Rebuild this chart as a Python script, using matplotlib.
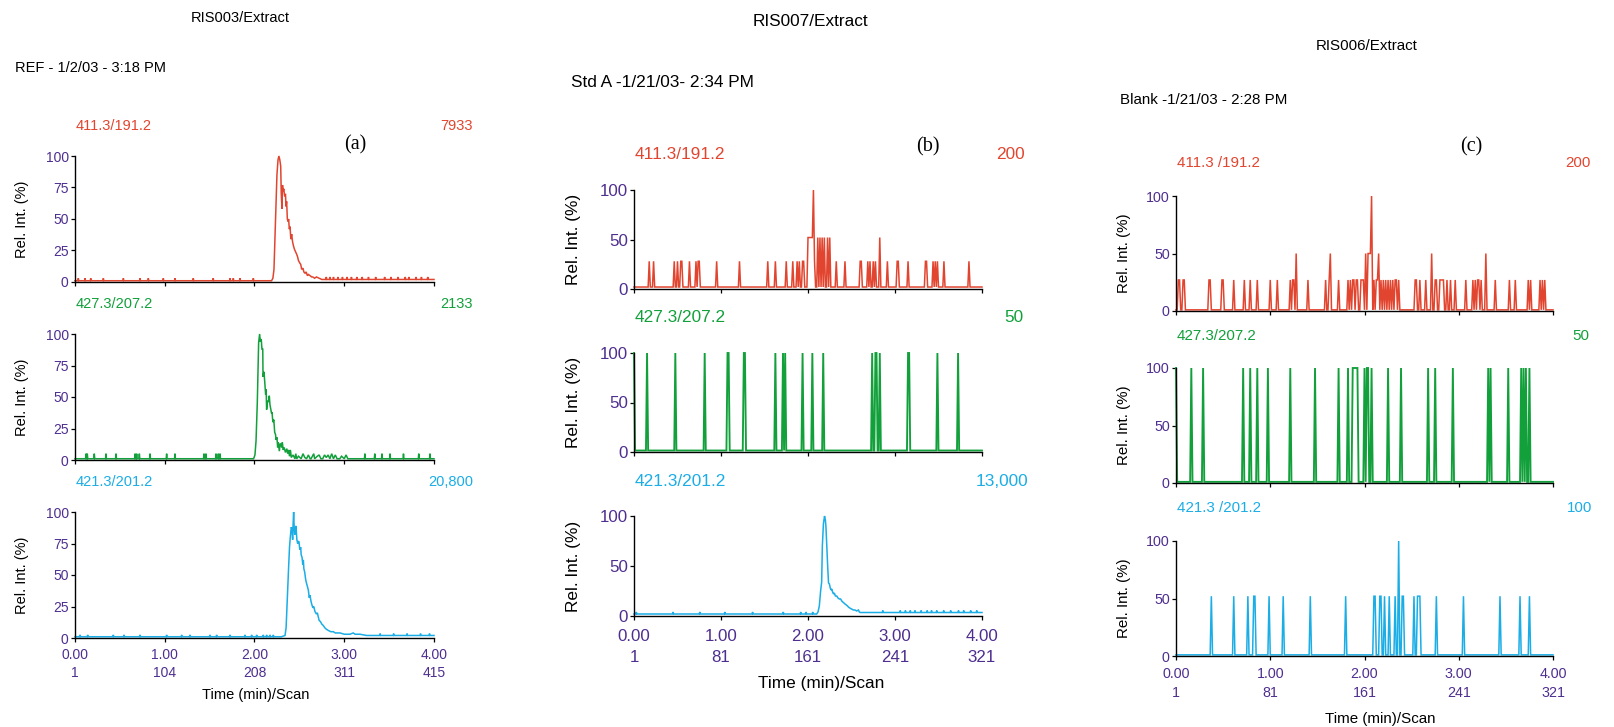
import numpy as np
import matplotlib
matplotlib.use("Agg")
import matplotlib.pyplot as plt

# ---------------- DATA ----------------
TIME_TICKS = [0, 1, 2, 3, 4]
SCAN_LABELS_A = ["1", "104", "208", "311", "415"]
SCAN_LABELS_BC = ["1", "81", "161", "241", "321"]
N_SCANS_A = 415
N_SCANS_BC = 321

TITLES = ["RIS003/Extract", "RIS007/Extract", "RIS006/Extract"]
SAMPLES = ["REF - 1/2/03 - 3:18 PM", "Std A -1/21/03- 2:34 PM", "Blank -1/21/03 - 2:28 PM"]
PANEL_TAGS = ["(a)", "(b)", "(c)"]
TRACE_NAMES = [["411.3/191.2", "427.3/207.2", "421.3/201.2"],
               ["411.3/191.2", "427.3/207.2", "421.3/201.2"],
               ["411.3 /191.2", "427.3/207.2", "421.3 /201.2"]]
TRACE_MAX = [["7933", "2133", "20,800"],
             ["200", "50", "13,000"],
             ["200", "50", "100"]]

# (a) 411.3/191.2 -- peak profile (time min, rel. int. %) and baseline bumps
A_RED_PEAK_T = [2.19, 2.205, 2.217, 2.228, 2.24, 2.25, 2.262, 2.272, 2.282, 2.292,
                2.298, 2.306, 2.312, 2.318, 2.326, 2.336, 2.345, 2.351, 2.358, 2.366,
                2.374, 2.38, 2.388, 2.396, 2.405, 2.414, 2.424, 2.433, 2.445, 2.458,
                2.47, 2.48, 2.49, 2.505, 2.515, 2.526, 2.54, 2.55, 2.563, 2.575,
                2.59, 2.6, 2.62, 2.637, 2.65, 2.67, 2.69, 2.72, 2.75]
A_RED_PEAK_V = [1, 3, 10, 35, 62, 85, 97, 100, 97, 92,
                70, 58, 77, 72, 74, 68, 70, 60, 64, 50,
                48, 50, 42, 44, 34, 38, 32, 29, 26, 24,
                22, 20, 17, 15, 14, 10, 11, 8, 7, 8,
                5, 6, 5, 4, 4, 3, 4, 3, 2]
A_RED_BUMPS = [0.037, 0.111, 0.175, 0.316, 0.539, 0.724, 0.817, 0.984, 1.114, 1.318,
               1.54, 1.727, 1.764, 1.838, 1.987, 2.8, 2.84, 2.88, 2.93, 2.98, 3.03,
               3.08, 3.14, 3.2, 3.27, 3.35, 3.45, 3.52, 3.6, 3.68, 3.72, 3.8, 3.86, 3.93]
A_RED_BUMP_H = 2

# (a) 427.3/207.2
A_GRN_PEAK_T = [1.99, 2.005, 2.017, 2.031, 2.046, 2.057, 2.065, 2.075, 2.083, 2.092,
                2.095, 2.105, 2.11, 2.124, 2.13, 2.135, 2.145, 2.155, 2.165, 2.172,
                2.18, 2.19, 2.195, 2.205, 2.215, 2.225, 2.235, 2.24, 2.25, 2.258,
                2.265, 2.277, 2.285, 2.295, 2.303, 2.31, 2.32, 2.33, 2.345, 2.36,
                2.37, 2.38, 2.39, 2.40, 2.41, 2.43, 2.45, 2.46, 2.47, 2.49,
                2.52, 2.54, 2.56, 2.58, 2.6, 2.62, 2.63, 2.66, 2.67, 2.7,
                2.72, 2.74, 2.76, 2.78, 2.8, 2.82, 2.84, 2.86, 2.88, 2.9,
                2.92, 2.95, 2.97, 3.0, 3.02, 3.04, 3.06]
A_GRN_PEAK_V = [1, 4, 15, 45, 93, 100, 94, 96, 88, 88,
                66, 70, 66, 52, 56, 40, 47, 46, 51, 44,
                41, 37, 38, 30, 32, 22, 20, 16, 18, 10,
                14, 7, 13, 12, 10, 14, 8, 10, 6, 9,
                5, 8, 3, 8, 2, 4, 1, 5, 1, 3,
                1, 5, 2, 1, 4, 1, 1, 5, 1, 3,
                4, 1, 1, 4, 2, 4, 1, 5, 1, 4,
                1, 1, 3, 1, 4, 1, 1]
A_GRN_BUMPS = [0.123, 0.137, 0.215, 0.345, 0.457, 0.669, 0.687, 0.717, 0.836, 1.021,
               1.114, 1.437, 1.459, 1.571, 1.597, 1.616, 3.23, 3.34, 3.42, 3.51,
               3.66, 3.83, 3.955]
A_GRN_BUMP_H = 4

# (a) 421.3/201.2
A_BLU_PEAK_T = [2.30, 2.34, 2.352, 2.36, 2.37, 2.38, 2.39, 2.399, 2.41, 2.418, 2.425,
                2.43, 2.436, 2.442, 2.448, 2.455, 2.462, 2.466, 2.472, 2.481, 2.49,
                2.496, 2.505, 2.515, 2.52, 2.53, 2.538, 2.544, 2.55, 2.56, 2.567,
                2.574, 2.585, 2.6, 2.61, 2.618, 2.63, 2.637, 2.65, 2.66, 2.674,
                2.69, 2.7, 2.71, 2.72, 2.735, 2.75, 2.765, 2.785, 2.8, 2.822,
                2.85, 2.878, 2.9, 2.953, 3.0, 3.064, 3.1, 3.12, 3.175, 3.25]
A_BLU_PEAK_V = [1, 2, 8, 22, 40, 56, 72, 80, 88, 86, 78,
                90, 100, 88, 82, 86, 89, 84, 78, 75, 77,
                76, 70, 72, 66, 64, 58, 62, 55, 52, 48,
                45, 42, 38, 32, 34, 29, 27, 24, 25, 21,
                19, 20, 17, 14, 13, 11, 10, 8, 7, 6,
                5, 5, 4, 4, 3, 3, 4, 3, 3, 2]
A_BLU_BUMPS = [0.056, 0.141, 0.427, 0.546, 0.724, 1.021, 1.188, 1.281, 1.504, 1.578,
               1.727, 1.894, 1.968, 2.024, 2.098, 2.135, 2.173, 2.21, 3.4, 3.55,
               3.7, 3.85, 3.95]
A_BLU_BUMP_H = 1.5

# (b) 421.3/201.2
B_BLU_PEAK_T = [2.10, 2.115, 2.13, 2.145, 2.157, 2.165, 2.177, 2.19, 2.2, 2.207,
                2.216, 2.226, 2.236, 2.246, 2.256, 2.265, 2.273, 2.283, 2.293, 2.303,
                2.315, 2.33, 2.345, 2.36, 2.375, 2.388, 2.4, 2.413, 2.426, 2.44,
                2.455, 2.464, 2.48, 2.5, 2.522, 2.54, 2.56, 2.58, 2.59, 2.6]
B_BLU_PEAK_V = [2, 4, 10, 25, 34, 70, 92, 100, 96, 88,
                70, 50, 33, 32, 28, 26, 27, 24, 22, 23,
                20, 20, 18, 17, 17, 15, 14, 13, 12, 11,
                10, 9, 8, 7, 6, 6, 5, 6, 4, 3.5]
B_BLU_BUMPS = [0.027, 0.449, 0.756, 1.044, 1.363, 1.716, 1.916, 1.977, 2.054,
               2.86, 3.06, 3.12, 3.175, 3.23, 3.30, 3.37, 3.42, 3.48, 3.56,
               3.64, 3.73, 3.79, 3.87, 3.94]
B_BLU_BUMP_H = 2

# (b) 411.3/191.2 -- single-scan spikes (time min, rel. int. %), baseline level
B_RED_T = [0.18, 0.226, 0.468, 0.495, 0.534, 0.553, 0.633, 0.718, 0.737, 0.756,
           0.948, 1.217, 1.532, 1.628, 1.754, 1.823, 1.869, 1.900, 1.939, 1.954,
           2.0, 2.0125, 2.025, 2.0375, 2.05, 2.0625, 2.08,
           2.107, 2.138, 2.161, 2.192, 2.223, 2.253,
           2.322, 2.426, 2.599, 2.618, 2.683, 2.714, 2.745, 2.772, 2.829,
           2.914, 3.021, 3.040, 3.148, 3.347, 3.367, 3.443, 3.463, 3.482, 3.559, 3.846]
B_RED_V = [28, 28, 28, 28, 28, 28, 28, 28, 28, 28,
           28, 28, 28, 28, 28, 28, 28, 28, 28, 28,
           52, 52, 52, 52, 52, 100, 28,
           52, 52, 52, 52, 52, 52,
           28, 28, 28, 28, 28, 28, 28, 28, 52,
           28, 28, 28, 28, 28, 28, 28, 28, 28, 28, 28]
B_RED_BASE = 2

# (b) 427.3/207.2
B_GRN_T = [0.0, 0.150, 0.480, 0.814, 1.071, 1.090, 1.263, 1.274, 1.620, 1.716, 1.735,
           1.939, 2.046, 2.177, 2.741, 2.772, 2.791, 2.829, 3.148, 3.167, 3.489, 3.720]
B_GRN_V = [100, 100, 100, 100, 100, 100, 100, 100, 100, 100, 100,
           100, 100, 100, 100, 100, 100, 100, 100, 100, 100, 100]
B_GRN_BASE = 1.5

# (c) 411.3/191.2
C_RED_T = [0.025, 0.042, 0.071, 0.088, 0.355, 0.368, 0.484, 0.502, 0.608, 0.731,
           0.784, 0.862, 0.996, 1.074, 1.216, 1.233, 1.251, 1.272, 1.403, 1.587,
           1.625, 1.643, 1.721, 1.827, 1.855, 1.873, 1.887, 1.908, 1.922, 1.968,
           1.98, 1.993, 2.014, 2.039, 2.05, 2.0625, 2.078, 2.099, 2.12, 2.133,
           2.15, 2.18, 2.205, 2.226, 2.251, 2.276, 2.297, 2.322, 2.339, 2.357,
           2.534, 2.551, 2.587, 2.65, 2.71, 2.746, 2.763, 2.799, 2.812, 2.825,
           2.834, 2.869, 2.915, 2.958, 3.081, 3.152, 3.170, 3.194, 3.216, 3.240,
           3.293, 3.392, 3.541, 3.604, 3.735, 3.760, 3.866, 3.887, 3.912]
C_RED_V = [27, 27, 27, 27, 27, 27, 27, 27, 27, 27,
           27, 27, 27, 27, 27, 27, 27, 50, 27, 27,
           27, 50, 27, 27, 27, 27, 27, 27, 27, 27,
           27, 27, 50, 50, 50, 50, 100, 27, 27, 27,
           50, 27, 27, 27, 27, 27, 27, 27, 27, 27,
           27, 27, 27, 27, 50, 27, 27, 27, 27, 27,
           27, 27, 27, 27, 27, 27, 27, 27, 27, 27,
           50, 27, 27, 27, 27, 27, 27, 27, 27]
C_RED_BASE = 1

# (c) 427.3/207.2
C_GRN_T = [0.0, 0.166, 0.290, 0.714, 0.784, 0.866, 0.972, 1.208, 1.473, 1.731,
           1.827, 1.88, 1.8925, 1.905, 1.9175, 1.93, 2.004, 2.021, 2.039, 2.074,
           2.251, 2.382, 2.675, 2.756, 2.933, 3.311, 3.336, 3.523, 3.664, 3.689,
           3.717, 3.753]
C_GRN_V = [100, 100, 100, 100, 100, 100, 100, 100, 100, 100,
           100, 100, 100, 100, 100, 100, 100, 100, 100, 100,
           100, 100, 100, 100, 100, 100, 100, 100, 100, 100,
           100, 100]
C_GRN_BASE = 1

# (c) 421.3/201.2
C_BLU_T = [0.379, 0.609, 0.768, 0.821, 0.832, 0.991, 1.143, 1.423, 1.798, 2.106,
           2.117, 2.1625, 2.175, 2.212, 2.265, 2.319, 2.365, 2.40, 2.418, 2.531,
           2.566, 2.58, 2.59, 2.761, 3.044, 3.441, 3.653, 3.752]
C_BLU_V = [52, 52, 52, 52, 52, 52, 52, 52, 52, 52,
           52, 52, 52, 52, 52, 52, 100, 52, 52, 52,
           52, 52, 52, 52, 52, 52, 52, 52]
C_BLU_BASE = 1

# ---------------- STYLE / LAYOUT ----------------
W, H = 1615, 727
RED, GREEN, CYAN = "#E2452F", "#12A03B", "#1AADE6"
PURPLE = "#4E2E8F"
SANS = "Liberation Sans"
SERIF = "Liberation Serif"
TMAX = 4.0

fig = plt.figure(figsize=(W / 100, H / 100), dpi=100)


def fx(x):
    return x / W


def fy(y):
    return 1 - y / H


def peak_trace(pt, pv, bumps, bump_h, n_scans):
    d = TMAX / (n_scans - 1) / 2
    pre, post = pv[0], pv[-1]
    pts = [(0.0, pre), (TMAX, post)] + list(zip(pt, pv))
    for t in bumps:
        b = pre if t < pt[0] else post
        pts += [(t - d, b), (t, b + bump_h), (t + d, b)]
    pts.sort()
    arr = np.array(pts)
    return arr[:, 0], arr[:, 1]


def spike_trace(st, sv, base, n_scans):
    t = np.linspace(0, TMAX, n_scans)
    v = np.full(n_scans, float(base))
    idx = np.rint(np.array(st) / (TMAX / (n_scans - 1))).astype(int)
    v[idx] = sv
    return t, v


traces = [
    [peak_trace(A_RED_PEAK_T, A_RED_PEAK_V, A_RED_BUMPS, A_RED_BUMP_H, N_SCANS_A),
     peak_trace(A_GRN_PEAK_T, A_GRN_PEAK_V, A_GRN_BUMPS, A_GRN_BUMP_H, N_SCANS_A),
     peak_trace(A_BLU_PEAK_T, A_BLU_PEAK_V, A_BLU_BUMPS, A_BLU_BUMP_H, N_SCANS_A)],
    [spike_trace(B_RED_T, B_RED_V, B_RED_BASE, N_SCANS_BC),
     spike_trace(B_GRN_T, B_GRN_V, B_GRN_BASE, N_SCANS_BC),
     peak_trace(B_BLU_PEAK_T, B_BLU_PEAK_V, B_BLU_BUMPS, B_BLU_BUMP_H, N_SCANS_BC)],
    [spike_trace(C_RED_T, C_RED_V, C_RED_BASE, N_SCANS_BC),
     spike_trace(C_GRN_T, C_GRN_V, C_GRN_BASE, N_SCANS_BC),
     spike_trace(C_BLU_T, C_BLU_V, C_BLU_BASE, N_SCANS_BC)],
]
colors = [RED, GREEN, CYAN]
scan_labels = [SCAN_LABELS_A, SCAN_LABELS_BC, SCAN_LABELS_BC]

layout = [
    dict(left=75, right=434, rows=[(156, 282), (334, 460), (512, 638)],
         yticks=[0, 25, 50, 75, 100], fs=10.5, tfs=10.0, xpad=4.3, xls=1.33,
         title=(240.5, 22), sample=(15, 72), tag=(355, 149),
         name_x=76, max_x=[473, 473, 473], max_ha="right", name_y=[130, 308, 486],
         ylab_x=22, xlab=(256, 699)),
    dict(left=634, right=982, rows=[(190, 289), (353, 452), (516, 616)],
         yticks=[0, 50, 100], fs=12.4, tfs=12.2, xpad=6.1, xls=1.52,
         title=(810, 26), sample=(571, 87), tag=(928, 151),
         name_x=635, max_x=[1025, 1023, 1028], max_ha="right", name_y=[159, 322, 486],
         ylab_x=574, xlab=(821, 688)),
    dict(left=1176, right=1553, rows=[(196, 311), (368, 483), (541, 656)],
         yticks=[0, 50, 100], fs=10.9, tfs=10.3, xpad=4.9, xls=1.44,
         title=(1367, 50), sample=(1120, 104), tag=(1471, 151),
         name_x=1177, max_x=[1565, 1572, 1567], max_ha="left", name_y=[167, 340, 512],
         ylab_x=1124, xlab=(1380, 723)),
]

for p, L in enumerate(layout):
    fs, tfs = L["fs"], L["tfs"]
    fig.text(fx(L["title"][0]), fy(L["title"][1]), TITLES[p], ha="center", va="baseline",
             fontsize=fs, family=SANS, color="black")
    fig.text(fx(L["sample"][0]), fy(L["sample"][1]), SAMPLES[p], ha="left", va="baseline",
             fontsize=fs, family=SANS, color="black")
    fig.text(fx(L["tag"][0]), fy(L["tag"][1]), PANEL_TAGS[p], ha="center", va="baseline",
             fontsize=14.5, family=SERIF, color="black")
    for r, (top, bot) in enumerate(L["rows"]):
        ax = fig.add_axes([fx(L["left"]), fy(bot), (L["right"] - L["left"]) / W, (bot - top) / H])
        t, v = traces[p][r]
        ax.plot(t, v, color=colors[r], lw=1.35 if r == 1 and p > 0 else 1.1,
                clip_on=False, solid_joinstyle="miter")
        ax.set_xlim(0, TMAX)
        ax.set_ylim(0, 100)
        for s in ["top", "right"]:
            ax.spines[s].set_visible(False)
        for s in ["left", "bottom"]:
            ax.spines[s].set_color("black")
            ax.spines[s].set_linewidth(1.0)
        ax.set_yticks(L["yticks"])
        ax.set_yticklabels([str(y) for y in L["yticks"]], fontsize=tfs, family=SANS, color=PURPLE)
        ax.set_xticks(TIME_TICKS)
        if r == 2:
            labs = ["%.2f\n%s" % (tt, sl) for tt, sl in zip(TIME_TICKS, scan_labels[p])]
            ax.set_xticklabels(labs, fontsize=tfs, family=SANS, color=PURPLE, linespacing=L["xls"])
        else:
            ax.set_xticklabels([])
        ax.tick_params(axis="both", direction="out", length=3.0, width=0.9, color="black")
        ax.tick_params(axis="y", pad=1.5)
        ax.tick_params(axis="x", pad=L["xpad"])
        ax.set_facecolor("none")
        ymid = (top + bot) / 2
        fig.text(fx(L["ylab_x"]), fy(ymid), "Rel. Int. (%)", rotation=90, ha="center", va="center",
                 fontsize=fs, family=SANS, color="black")
        fig.text(fx(L["name_x"]), fy(L["name_y"][r]), TRACE_NAMES[p][r], ha="left", va="baseline",
                 fontsize=fs, family=SANS, color=colors[r])
        fig.text(fx(L["max_x"][r]), fy(L["name_y"][r]), TRACE_MAX[p][r], ha=L["max_ha"], va="baseline",
                 fontsize=fs, family=SANS, color=colors[r])
    fig.text(fx(L["xlab"][0]), fy(L["xlab"][1]), "Time (min)/Scan", ha="center", va="baseline",
             fontsize=fs, family=SANS, color="black")

fig.savefig("out.png", dpi=100, facecolor="white")
